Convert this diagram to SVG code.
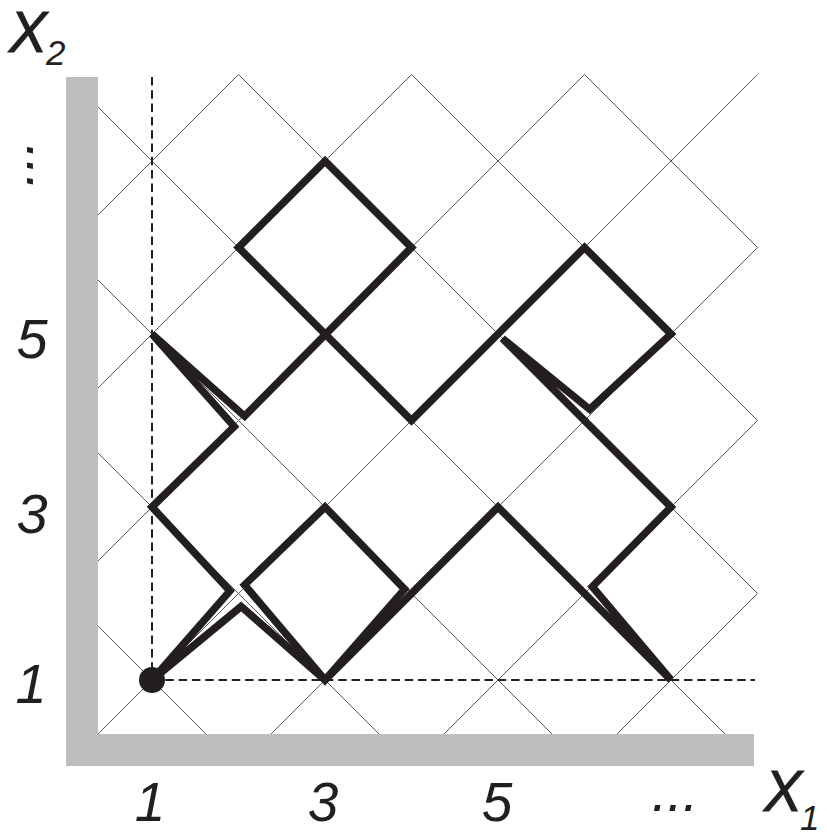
<svg xmlns="http://www.w3.org/2000/svg" width="827" height="833" viewBox="0 0 827 833">
<style>
.grid{fill:none;stroke:#58595b;stroke-width:1}
.dash{fill:none;stroke:#231f20;stroke-width:2;stroke-dasharray:8.5 4.8}
.bold{fill:none;stroke:#231f20;stroke-width:7.5;stroke-linejoin:miter;stroke-miterlimit:4}
.bar{fill:#bcbec0}
.lbl{font-family:"Liberation Sans",Arial,sans-serif;font-style:italic;fill:#231f20}
</style>
<defs>
<clipPath id="plot"><rect x="98" y="70" width="665" height="664"/></clipPath>
</defs>
<rect width="827" height="833" fill="#fff"/>
<g id="grid" class="grid" clip-path="url(#plot)">
<path d="M65.5,766.5L757.5,74.5M65.5,593.5L584.5,74.5M65.5,420.5L411.5,74.5M65.5,247.5L238.5,74.5M238.5,766.5L757.5,247.5M411.5,766.5L757.5,420.5M584.5,766.5L757.5,593.5M65.5,593.5L238.5,766.5M65.5,420.5L411.5,766.5M65.5,247.5L584.5,766.5M65.5,74.5L757.5,766.5M238.5,74.5L757.5,593.5M411.5,74.5L757.5,420.5M584.5,74.5L757.5,247.5"/>
</g>
<g id="axes">
<rect class="bar" x="66" y="77" width="32" height="689"/>
<rect class="bar" x="66" y="734" width="688" height="32"/>
<path class="dash" d="M152,77V680"/>
<path class="dash" d="M152,680H755"/>
</g>
<g id="connectors">
<path class="bold" d="M671,680L592.3,586.6L671,507L502.3,338.3L589.7,409.3L671,334L584.5,247.5L411.5,420.5L238.5,247.5L325,161L411.5,247.5L244.6,416.2L152,334L234.2,426.6L152,507L229.9,590.9L152,680L241.1,606.5L325,680L498,507L671,680"/>
<path class="bold" d="M244.6,584.9L325,507L404.6,589.2L325,680Z"/>
</g>
<g id="start-node">
<circle cx="152" cy="680" r="13" fill="#231f20"/>
</g>
<g id="labels" class="lbl">
<text x="9" y="52" font-size="57" stroke="#231f20" stroke-width="1">X</text>
<text x="46" y="65" font-size="35">2</text>
<text x="764" y="811" font-size="57" stroke="#231f20" stroke-width="1">X</text>
<text x="800" y="830" font-size="35">1</text>
<text x="32" y="358" font-size="56" text-anchor="middle">5</text>
<text x="32" y="533" font-size="56" text-anchor="middle">3</text>
<text x="31" y="703" font-size="56" text-anchor="middle">1</text>
<text transform="translate(27,168) rotate(90)" font-size="56" text-anchor="middle">...</text>
<text x="150" y="821" font-size="55" text-anchor="middle">1</text>
<text x="323" y="821" font-size="55" text-anchor="middle">3</text>
<text x="497" y="821" font-size="55" text-anchor="middle">5</text>
<text x="675" y="811" font-size="56" text-anchor="middle">...</text>
</g>
</svg>
